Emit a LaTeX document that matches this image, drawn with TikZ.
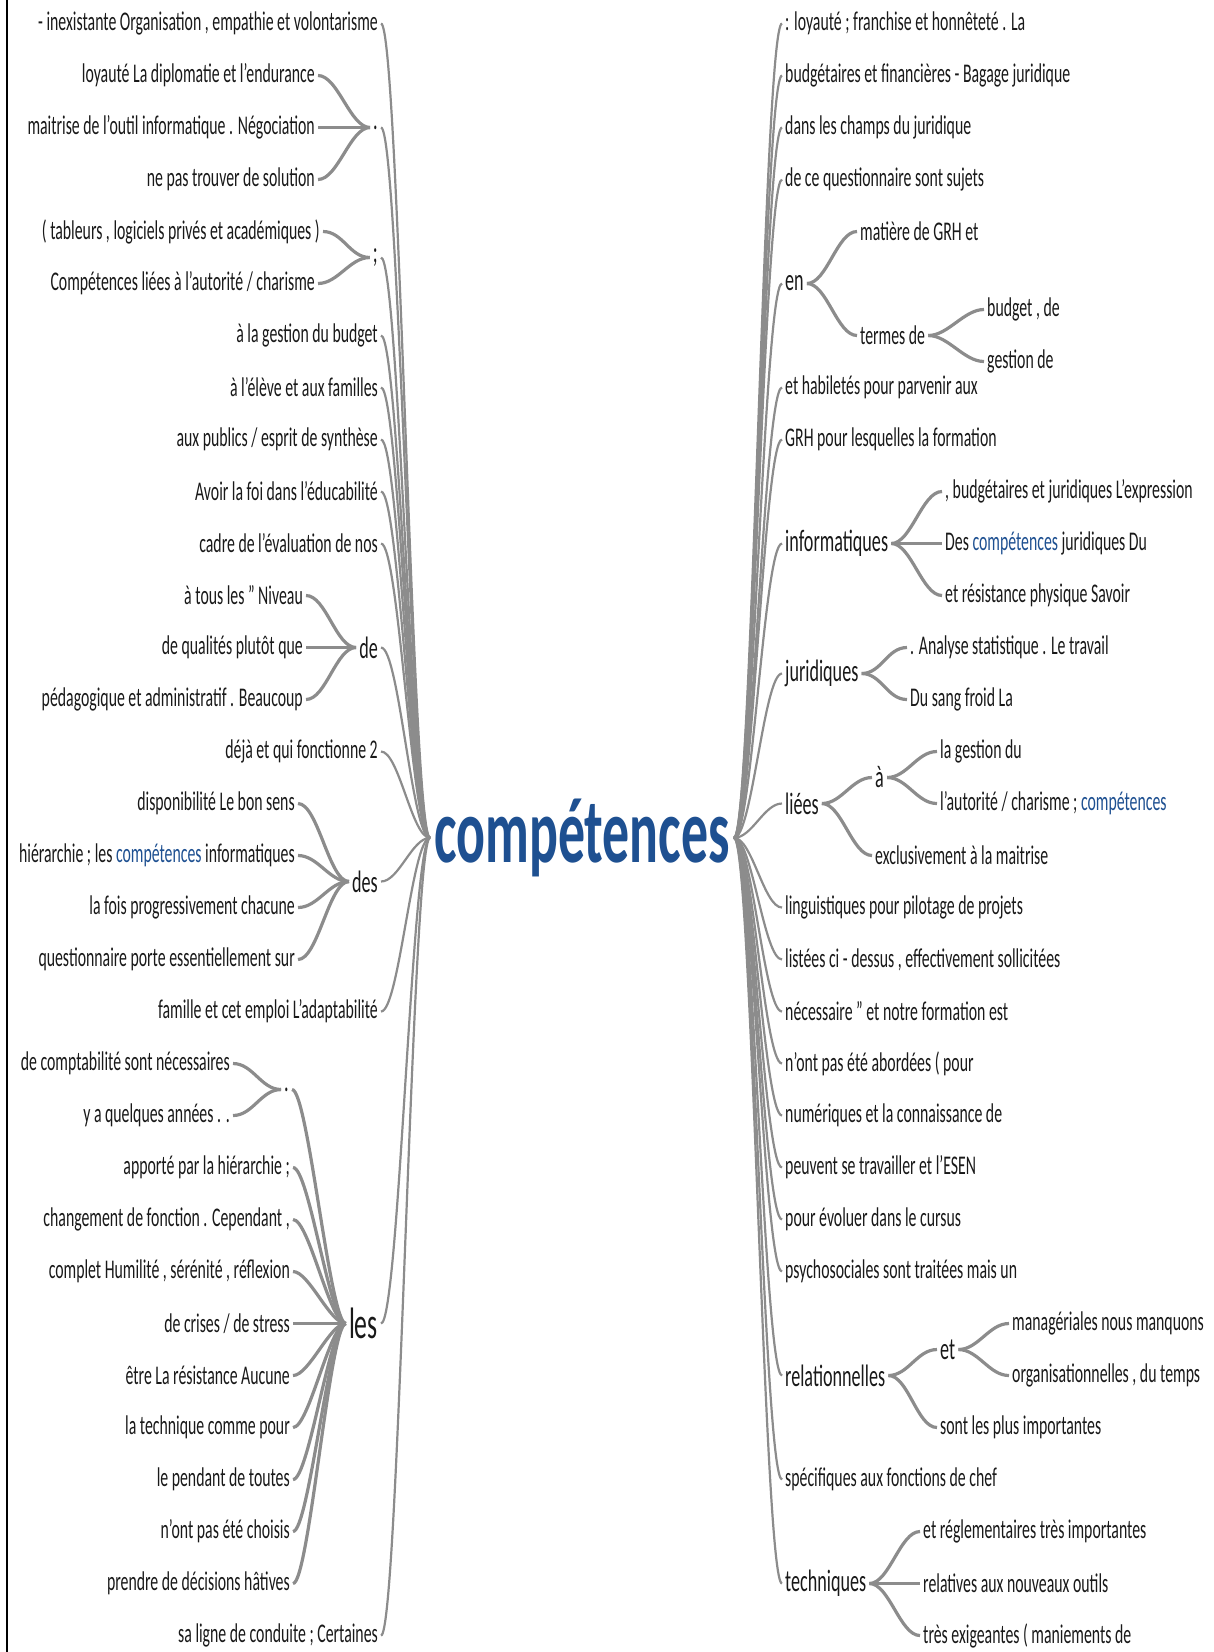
\documentclass[tikz,border=0pt]{standalone}
\usepackage{fontspec}
\setmainfont{Carlito}[FakeStretch=0.585]
\usetikzlibrary{positioning}
\definecolor{linegray}{RGB}{140,140,140}
\definecolor{compblue}{RGB}{30,80,145}
\definecolor{textblack}{RGB}{25,25,25}
\newcommand{\compword}{\textcolor{compblue}{compétences}}

\begin{document}
\begin{tikzpicture}[x=1pt, y=-52pt,
    leaf/.style={font=\fontsize{27}{30}\selectfont, text=textblack, inner sep=3pt},
    mid/.style={font=\fontsize{31}{34}\selectfont, text=textblack, inner sep=3pt},
    big/.style={font=\fontsize{44}{48}\selectfont, text=textblack, inner sep=3pt},
    root/.style={font=\bfseries\fontsize{92}{100}\selectfont, text=compblue, inner sep=4pt},
    lft/.style={anchor=east}, rgt/.style={anchor=west},
    link/.style={draw=linegray, line width=2.2pt},
    twig/.style={draw=linegray, line width=3.2pt},
    wt/.style={out=0, in=180, out distance=#1, in distance=#1},
    wt/.default=20pt
  ]
  \useasboundingbox (0,-0.452) rectangle (1213,31.317);
  \draw[line width=1.5pt] (7,-0.452) -- (7,31.317);

  % root
  \node[root] (c) at (582,15.66) {compétences};

  % left side
  \node[leaf, lft] (l0) at (381,0) {- inexistante Organisation , empathie et volontarisme};
  \node[mid, lft] (dota) at (381,2) {.};
  \node[leaf, lft] (l1) at (318,1) {loyauté La diplomatie et l'endurance};
  \node[leaf, lft] (l2) at (318,2) {maitrise de l'outil informatique . Négociation};
  \node[leaf, lft] (l3) at (318,3) {ne pas trouver de solution};
  \node[mid, lft] (sema) at (381,4.5) {;};
  \node[leaf, lft] (l4) at (323,4) {( tableurs , logiciels privés et académiques )};
  \node[leaf, lft] (l5) at (318,5) {Compétences liées à l'autorité / charisme};
  \node[leaf, lft] (l6) at (381,6) {à la gestion du budget};
  \node[leaf, lft] (l7) at (381,7) {à l'élève et aux familles};
  \node[leaf, lft] (l8) at (381,8) {aux publics / esprit de synthèse};
  \node[leaf, lft] (l9) at (381,9) {Avoir la foi dans l'éducabilité};
  \node[leaf, lft] (l10) at (381,10) {cadre de l'évaluation de nos};
  \node[mid, lft] (de) at (381,12) {de};
  \node[leaf, lft] (l11) at (306,11) {à tous les " Niveau};
  \node[leaf, lft] (l12) at (306,12) {de qualités plutôt que};
  \node[leaf, lft] (l13) at (306,13) {pédagogique et administratif . Beaucoup};
  \node[leaf, lft] (l14) at (381,14) {déjà et qui fonctionne 2};
  \node[mid, lft] (des) at (381,16.5) {des};
  \node[leaf, lft] (l15) at (298,15) {disponibilité Le bon sens};
  \node[leaf, lft] (l16) at (298,16) {hiérarchie ; les \compword{} informatiques};
  \node[leaf, lft] (l17) at (298,17) {la fois progressivement chacune};
  \node[leaf, lft] (l18) at (298,18) {questionnaire porte essentiellement sur};
  \node[leaf, lft] (l19) at (381,19) {famille et cet emploi L'adaptabilité};
  \node[big, lft] (les) at (381,25) {les};
  \node[mid, lft] (dotb) at (292,20.5) {.};
  \node[leaf, lft] (l20) at (233,20) {de comptabilité sont nécessaires};
  \node[leaf, lft] (l21) at (233,21) {y a quelques années . .};
  \node[leaf, lft] (l22) at (293,22) {apporté par la hiérarchie ;};
  \node[leaf, lft] (l23) at (293,23) {changement de fonction . Cependant ,};
  \node[leaf, lft] (l24) at (293,24) {complet Humilité , sérénité , réflexion};
  \node[leaf, lft] (l25) at (293,25) {de crises / de stress};
  \node[leaf, lft] (l26) at (293,26) {être La résistance Aucune};
  \node[leaf, lft] (l27) at (293,27) {la technique comme pour};
  \node[leaf, lft] (l28) at (293,28) {le pendant de toutes};
  \node[leaf, lft] (l29) at (293,29) {n'ont pas été choisis};
  \node[leaf, lft] (l30) at (293,30) {prendre de décisions hâtives};
  \node[leaf, lft] (l31) at (381,31) {sa ligne de conduite ; Certaines};

  % right side
  \node[leaf, rgt] (r0) at (782,0) {: loyauté ; franchise et honnêteté . La};
  \node[leaf, rgt] (r1) at (782,1) {budgétaires et financières - Bagage juridique};
  \node[leaf, rgt] (r2) at (782,2) {dans les champs du juridique};
  \node[leaf, rgt] (r3) at (782,3) {de ce questionnaire sont sujets};
  \node[mid, rgt] (en) at (782,5) {en};
  \node[leaf, rgt] (r4) at (857,4) {matière de GRH et};
  \node[leaf, rgt] (termes) at (857,6) {termes de};
  \node[leaf, rgt] (r5) at (984,5.5) {budget , de};
  \node[leaf, rgt] (r6) at (984,6.5) {gestion de};
  \node[leaf, rgt] (r7) at (782,7) {et habiletés pour parvenir aux};
  \node[leaf, rgt] (r8) at (782,8) {GRH pour lesquelles la formation};
  \node[mid, rgt] (info) at (782,10) {informatiques};
  \node[leaf, rgt] (r9) at (942,9) {, budgétaires et juridiques L'expression};
  \node[leaf, rgt] (r10) at (942,10) {Des \compword{} juridiques Du};
  \node[leaf, rgt] (r11) at (942,11) {et résistance physique Savoir};
  \node[mid, rgt] (jur) at (782,12.5) {juridiques};
  \node[leaf, rgt] (r12) at (907,12) {. Analyse statistique . Le travail};
  \node[leaf, rgt] (r13) at (907,13) {Du sang froid La};
  \node[mid, rgt] (liees) at (782,15) {liées};
  \node[mid, rgt] (a) at (872,14.5) {à};
  \node[leaf, rgt] (r14) at (937,14) {la gestion du};
  \node[leaf, rgt] (r15) at (937,15) {l'autorité / charisme ; \compword};
  \node[leaf, rgt] (r16) at (872,16) {exclusivement à la maitrise};
  \node[leaf, rgt] (r17) at (782,17) {linguistiques pour pilotage de projets};
  \node[leaf, rgt] (r18) at (782,18) {listées ci - dessus , effectivement sollicitées};
  \node[leaf, rgt] (r19) at (782,19) {nécessaire " et notre formation est};
  \node[leaf, rgt] (r20) at (782,20) {n'ont pas été abordées ( pour};
  \node[leaf, rgt] (r21) at (782,21) {numériques et la connaissance de};
  \node[leaf, rgt] (r22) at (782,22) {peuvent se travailler et l'ESEN};
  \node[leaf, rgt] (r23) at (782,23) {pour évoluer dans le cursus};
  \node[leaf, rgt] (r24) at (782,24) {psychosociales sont traitées mais un};
  \node[mid, rgt] (rel) at (782,26) {relationnelles};
  \node[mid, rgt] (et) at (937,25.5) {et};
  \node[leaf, rgt] (r25) at (1009,25) {managériales nous manquons};
  \node[leaf, rgt] (r26) at (1009,26) {organisationnelles , du temps};
  \node[leaf, rgt] (r27) at (937,27) {sont les plus importantes};
  \node[leaf, rgt] (r28) at (782,28) {spécifiques aux fonctions de chef};
  \node[mid, rgt] (tech) at (782,30) {techniques};
  \node[leaf, rgt] (r29) at (920,29) {et réglementaires très importantes};
  \node[leaf, rgt] (r30) at (920,30) {relatives aux nouveaux outils};
  \node[leaf, rgt] (r31) at (920,31) {très exigeantes ( maniements de};

  % left links to root
  \foreach \n in {l0,dota,sema,l6,l7,l8,l9,l10,de,l14,des,l19,les,l31}
    \draw[link] (\n.east) to[wt=18pt] (c.west);
  \foreach \n in {l1,l2,l3} \draw[twig] (\n.east) to[wt] (dota.west);
  \foreach \n in {l4,l5} \draw[twig] (\n.east) to[wt] (sema.west);
  \foreach \n in {l11,l12,l13} \draw[twig] (\n.east) to[wt] (de.west);
  \foreach \n in {l15,l16,l17,l18} \draw[twig] (\n.east) to[wt] (des.west);
  \foreach \n in {l20,l21} \draw[twig] (\n.east) to[wt] (dotb.west);
  \foreach \n in {dotb,l22,l23,l24,l25,l26,l27,l28,l29,l30}
    \draw[twig] (\n.east) to[wt=16pt] (les.west);

  % right links from root
  \foreach \n in {r0,r1,r2,r3,en,r7,r8,info,jur,liees,r17,r18,r19,r20,r21,r22,r23,r24,rel,r28,tech}
    \draw[link] (c.east) to[wt=18pt] (\n.west);
  \foreach \n in {r4,termes} \draw[twig] (en.east) to[wt] (\n.west);
  \foreach \n in {r5,r6} \draw[twig] (termes.east) to[wt] (\n.west);
  \foreach \n in {r9,r10,r11} \draw[twig] (info.east) to[wt] (\n.west);
  \foreach \n in {r12,r13} \draw[twig] (jur.east) to[wt] (\n.west);
  \foreach \n in {a,r16} \draw[twig] (liees.east) to[wt] (\n.west);
  \foreach \n in {r14,r15} \draw[twig] (a.east) to[wt] (\n.west);
  \foreach \n in {et,r27} \draw[twig] (rel.east) to[wt] (\n.west);
  \foreach \n in {r25,r26} \draw[twig] (et.east) to[wt] (\n.west);
  \foreach \n in {r29,r30,r31} \draw[twig] (tech.east) to[wt] (\n.west);
\end{tikzpicture}
\end{document}
